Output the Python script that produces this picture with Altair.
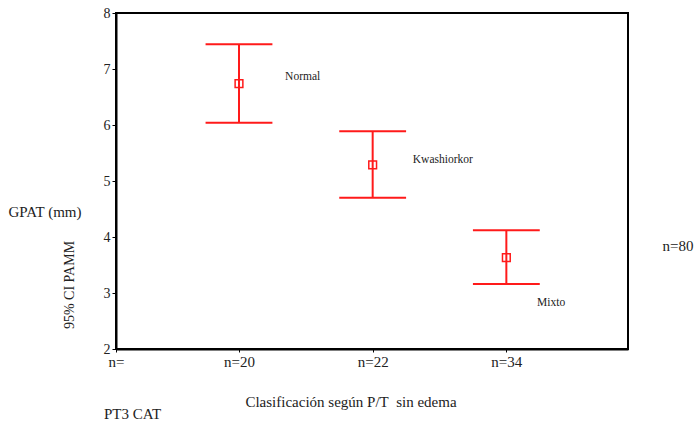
import altair as alt
import pandas as pd

categories = ["Normal", "Kwashiorkor", "Mixto"]
positions = [1, 2, 3]
means = [6.74, 5.29, 3.63]
lowers = [6.04, 4.70, 3.16]
uppers = [7.44, 5.89, 4.12]
label_x = [1.345, 2.30, 3.23]
label_y = [6.85, 5.37, 2.82]
n_labels = ["n=", "n=20", "n=22", "n=34"]
y_ticks = [2, 3, 4, 5, 6, 7, 8]

df = pd.DataFrame({
    "cat": categories, "pos": positions, "mean": means,
    "lo": lowers, "hi": uppers, "lx": label_x, "ly": label_y,
})

FONT = "Liberation Serif"
RED = "#ff1a1a"
W, H = 512, 336

xs = alt.Scale(domain=[0.08, 3.91], nice=False, zero=False)
ys = alt.Scale(domain=[2, 8], nice=False, zero=False)

label_expr = ("datum.value < 0.5 ? '%s' : datum.value == 1 ? '%s' : datum.value == 2 ? '%s' : '%s'"
              % tuple(n_labels))

base = alt.Chart(df)

x_enc = alt.X("pos:Q", scale=xs, axis=alt.Axis(
    values=[0.08, 1, 2, 3], labelExpr=label_expr, title=None, grid=False,
    tickSize=3, labelFont=FONT, labelFontSize=15, labelColor="#222",
    labelPadding=2, domainColor="black", domainWidth=2, tickColor="black",
    labelFlush=False))

vrule = base.mark_rule(color=RED, strokeWidth=2).encode(
    x=x_enc,
    y=alt.Y("lo:Q", scale=ys, axis=alt.Axis(
        values=y_ticks, format="d", title=None, grid=False, tickSize=4, tickColor="black",
        domainColor="black", domainWidth=2, labelFont=FONT, labelFontSize=14,
        labelColor="#222", labelPadding=2)),
    y2="hi:Q",
)

caps = base.transform_calculate(x1="datum.pos - 0.25", x2="datum.pos + 0.25")
caps_hi = caps.mark_rule(color=RED, strokeWidth=2).encode(
    x=alt.X("x1:Q", scale=xs), x2="x2:Q", y=alt.Y("hi:Q", scale=ys))
caps_lo = caps.mark_rule(color=RED, strokeWidth=2).encode(
    x=alt.X("x1:Q", scale=xs), x2="x2:Q", y=alt.Y("lo:Q", scale=ys))

pts = base.mark_point(shape="square", filled=False, color=RED,
                      strokeWidth=1.5, size=60, opacity=1).encode(
    x=alt.X("pos:Q", scale=xs), y=alt.Y("mean:Q", scale=ys))

labels = base.mark_text(font=FONT, fontSize=11.5, color="#222", align="left",
                        baseline="middle").encode(
    x=alt.X("lx:Q", scale=xs), y=alt.Y("ly:Q", scale=ys), text="cat:N")

frame = alt.Chart(pd.DataFrame({"a": [0]})).mark_rect(
    fill=None, stroke="black", strokeWidth=2).encode(
    x=alt.value(0), x2=alt.value(W), y=alt.value(0), y2=alt.value(H))

def note(txt, x, y, size, align="center", angle=0):
    return alt.Chart(pd.DataFrame({"t": [txt]})).mark_text(
        font=FONT, fontSize=size, color="#222", align=align, baseline="middle",
        angle=angle).encode(x=alt.value(x), y=alt.value(y), text="t:N")

notes = [
    note("GPAT (mm)", 45 - 116, 212 - 13, 15),
    note("95% CI PAMM", 70 - 116, 285 - 13, 14, angle=270),
    note("Clasificación según P/T\u00a0 sin edema", 351 - 116, 402 - 13, 15),
    note("PT3 CAT", 104 - 116, 414 - 13, 15, align="left"),
    note("n=80", 678 - 116, 246 - 13, 15),
]

chart = alt.layer(frame, vrule, caps_hi, caps_lo, pts, labels, *notes).properties(
    width=W, height=H,
    padding={"left": 116, "top": 13, "right": 66, "bottom": 74},
    autosize=alt.AutoSizeParams(type="none"),
).configure_view(stroke=None).configure(background="white", font=FONT)

chart.save("out.html", embed_options={"renderer": "svg", "actions": False})
